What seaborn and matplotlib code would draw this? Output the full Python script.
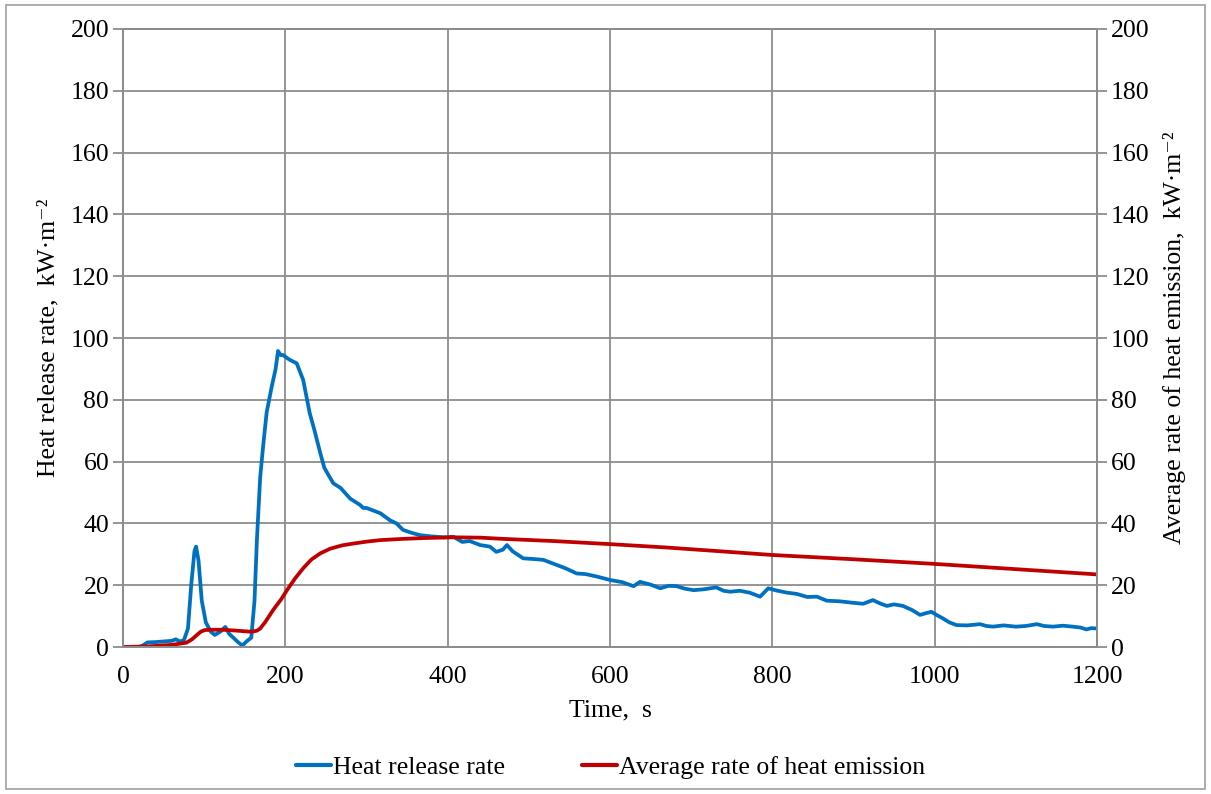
import numpy as np
import pandas as pd
import matplotlib.pyplot as plt
import seaborn as sns
from matplotlib.patches import Rectangle

# values
hrr_time = [0, 20, 25, 30, 40, 50, 60, 65, 70, 75, 80, 84, 88, 90, 93, 97, 102, 108, 113,
            120, 126, 131, 136, 142, 147, 153, 158, 162, 165, 169, 173, 177, 183, 188, 191,
            194, 197, 205, 214, 222, 230, 236, 243, 248, 253, 259, 268, 280, 292, 296, 300,
            310, 317, 329, 337, 345, 355, 366, 380, 395, 407, 418, 427, 440, 452, 460, 468,
            473, 480, 493, 505, 518, 530, 545, 559, 570, 584, 600, 615, 629, 637, 650, 662,
            672, 682, 692, 703, 716, 731, 740, 748, 760, 772, 785, 795, 805, 818, 830, 843,
            855, 867, 883, 900, 912, 924, 932, 941, 950, 961, 972, 982, 990, 996, 1003,
            1010, 1018, 1027, 1040, 1056, 1064, 1072, 1085, 1100, 1112, 1126, 1135, 1146,
            1158, 1170, 1180, 1187, 1193, 1200]
hrr_value = [0, 0, 0.6, 1.5, 1.6, 1.8, 2.0, 2.5, 1.8, 2.2, 6, 20, 31, 32.5, 28, 15, 8, 5, 3.9,
             5, 6.5, 4.2, 3.0, 1.5, 0.5, 2.0, 3.0, 15, 35, 55, 66, 76, 84, 90, 95.8,
             94.5, 94.5, 93, 91.8, 86.4, 75.7, 70, 62.8, 58, 55.7, 53, 51.5, 48, 46, 45, 45,
             44, 43.3, 41, 40, 37.9, 37, 36.2, 35.8, 35.5, 35.7, 34, 34.3, 33, 32.5, 30.8, 31.5,
             33, 31, 28.7, 28.5, 28.2, 27, 25.5, 23.8, 23.6, 22.8, 21.7, 21, 19.7, 21.1, 20.2, 19,
             19.8, 19.7, 18.9, 18.4, 18.7, 19.3, 18.2, 17.9, 18.2, 17.6, 16.3, 19.0, 18.3, 17.6, 17.2, 16.2,
             16.3, 15, 14.8, 14.3, 14.0, 15.2, 14.2, 13.3, 13.8, 13.3, 12.0, 10.4, 11.0, 11.4, 10.3,
             9.3, 8.0, 7.1, 7.0, 7.4, 6.8, 6.6, 7.0, 6.6, 6.8, 7.4, 6.8, 6.6,
             6.9, 6.6, 6.3, 5.7, 6.1, 6.0]

avg_time = [0, 30, 60, 78, 85, 91, 96, 101, 110, 123, 140, 155, 160, 165, 169, 175, 185, 195,
            202, 212, 222, 232, 243, 255, 270, 284, 300, 317, 345, 375, 407, 440, 468, 530,
            600, 670, 735, 799, 900, 1000, 1100, 1200]
avg_value = [0, 0.2, 0.7, 1.4, 2.5, 3.9, 5.0, 5.5, 5.6, 5.6, 5.3, 5.0, 5.0, 5.3, 6.0, 8.0, 12.0,
             15.5, 18.4, 22.2, 25.5, 28.3, 30.3, 31.8, 32.9, 33.5, 34.1, 34.6, 35.0, 35.3, 35.5,
             35.4, 35.0, 34.3, 33.3, 32.2, 31.0, 29.8, 28.4, 26.9, 25.2, 23.5]

hrr_label = "Heat release rate"
avg_label = "Average rate of heat emission"
x_ticks = [0, 200, 400, 600, 800, 1000, 1200]
y_ticks = [0, 20, 40, 60, 80, 100, 120, 140, 160, 180, 200]

df = pd.concat([
    pd.DataFrame({"Time": hrr_time, "Value": hrr_value, "Series": hrr_label}),
    pd.DataFrame({"Time": avg_time, "Value": avg_value, "Series": avg_label}),
])

sns.set_style("white")
plt.rcParams['font.family'] = ['Liberation Serif', 'DejaVu Serif']
plt.rcParams['text.color'] = 'black'
plt.rcParams['axes.labelcolor'] = 'black'
plt.rcParams['xtick.color'] = 'black'
plt.rcParams['ytick.color'] = 'black'

grid_col = "#8c8c8c"
fs = 18.5
fig = plt.figure(figsize=(12.11, 7.94), dpi=100)
ax = fig.add_axes([0.1016, 0.1851, 0.8042, 0.7784])

sns.lineplot(data=df, x="Time", y="Value", hue="Series",
             palette={hrr_label: "#0070C0", avg_label: "#C00000"},
             linewidth=2.7, ax=ax, legend=False, estimator=None, sort=False)

ax.set_xlim(0, 1200)
ax.set_ylim(0, 200)
ax.set_xticks(x_ticks)
ax.set_yticks(y_ticks)
ax.grid(True, color=grid_col, linewidth=1.3)
for s in ax.spines.values():
    s.set_color(grid_col)
    s.set_linewidth(1.3)
ax.tick_params(axis="both", labelsize=fs, color=grid_col, length=7, width=1.3,
               direction="out", pad=3)
ax.tick_params(axis="x", pad=7)
ax.set_xlabel("Time,  s", fontsize=fs, labelpad=8)
ax.set_ylabel("Heat release rate,  kW·m⁻²", fontsize=fs, labelpad=8)

ax2 = ax.twinx()
ax2.set_ylim(0, 200)
ax2.set_yticks(y_ticks)
ax2.tick_params(axis="y", labelsize=fs, color=grid_col, length=7, width=1.3, pad=3)
for s in ax2.spines.values():
    s.set_color(grid_col)
    s.set_linewidth(1.3)
ax2.set_ylabel("Average rate of heat emission,  kW·m⁻²", fontsize=fs, labelpad=10)

handles = [plt.Line2D([], [], color="#0070C0", linewidth=3),
           plt.Line2D([], [], color="#C00000", linewidth=3)]
fig.legend(handles, [hrr_label, avg_label], loc="center", bbox_to_anchor=(0.504, 0.033),
           ncol=2, frameon=False, fontsize=fs, handlelength=1.35, handletextpad=0.08,
           columnspacing=3.0)

fig.patches.append(Rectangle((0.005, 0.006), 0.99, 0.988, transform=fig.transFigure,
                             fill=False, edgecolor="#a0a0a0", linewidth=1.2))

fig.savefig("out.png", dpi=100)
